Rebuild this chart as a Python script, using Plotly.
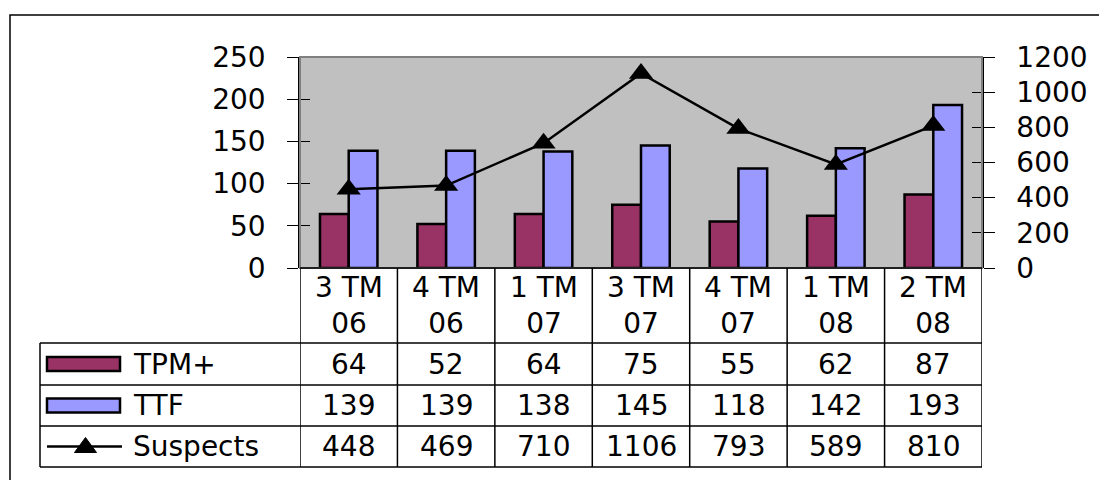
import plotly.graph_objects as go

W, H = 1107, 480
PAGE_OFFSET = 8  # the page body margin shifts the figure by 8px

categories = ["3 TM<br>06", "4 TM<br>06", "1 TM<br>07", "3 TM<br>07",
              "4 TM<br>07", "1 TM<br>08", "2 TM<br>08"]
tpm = [64, 52, 64, 75, 55, 62, 87]
ttf = [139, 139, 138, 145, 118, 142, 193]
suspects = [448, 469, 710, 1106, 793, 589, 810]
series_names = ["TPM+", "TTF", "Suspects"]

maroon = "#993366"
lilac = "#9999FF"
FONT = "DejaVu Sans"
FS = 28


def px(x):
    return (x - PAGE_OFFSET) / W


def py(y):
    return 1 - (y - PAGE_OFFSET) / H


# plot area / table geometry in pixels
left, right, top, bottom = 300, 982, 57, 268
rows = [268, 343, 385, 426, 467]
legend_left = 40

idx = list(range(len(categories)))

fig = go.Figure()
fig.add_trace(go.Bar(x=idx, y=tpm, name=series_names[0], marker_color=maroon,
                     marker_line=dict(color="black", width=2.5)))
fig.add_trace(go.Bar(x=idx, y=ttf, name=series_names[1], marker_color=lilac,
                     marker_line=dict(color="black", width=2.5)))
fig.add_trace(go.Scatter(x=idx, y=suspects, name=series_names[2], yaxis="y2",
                         mode="lines+markers",
                         line=dict(color="black", width=2.5),
                         marker=dict(symbol="triangle-up", size=21, color="black")))
# empty traces so the inner-tick overlay axes get drawn
fig.add_trace(go.Scatter(x=[], y=[], yaxis="y3", showlegend=False))
fig.add_trace(go.Scatter(x=[], y=[], yaxis="y4", showlegend=False))

xdom = [px(left), px(right)]
ydom = [py(bottom), py(top)]
tickfont = dict(family=FONT, size=FS, color="black")

fig.update_layout(
    width=W, height=H,
    autosize=False,
    margin=dict(l=0, r=0, t=0, b=0, pad=0, autoexpand=False),
    paper_bgcolor="white",
    plot_bgcolor="#C0C0C0",
    showlegend=False,
    barmode="group",
    bargap=0.41,
    bargroupgap=0,
    font=dict(family=FONT, size=FS, color="black"),
    xaxis=dict(domain=xdom, range=[-0.5, 6.5], showticklabels=False,
               showgrid=False, zeroline=False, showline=False, ticks="",
               automargin=False),
    yaxis=dict(domain=ydom, range=[0, 250], dtick=50, showgrid=False,
               zeroline=False, showline=True, linecolor="black", linewidth=1.5,
               ticks="outside", ticklen=11, tickcolor="black",
               ticklabelstandoff=16, tickfont=tickfont, automargin=False),
    yaxis2=dict(domain=ydom, range=[0, 1200], dtick=200, overlaying="y",
                side="right", anchor="x", showgrid=False, zeroline=False,
                showline=True, linecolor="black", linewidth=1.5,
                ticks="outside", ticklen=11, tickcolor="black",
                ticklabelstandoff=16, tickfont=tickfont, automargin=False),
    yaxis3=dict(domain=ydom, range=[0, 250], dtick=50, overlaying="y",
                side="left", anchor="x", showgrid=False, zeroline=False,
                showticklabels=False, ticks="inside", ticklen=10,
                tickcolor="black", automargin=False),
    yaxis4=dict(domain=ydom, range=[0, 1200], dtick=200, overlaying="y",
                side="right", anchor="x", showgrid=False, zeroline=False,
                showticklabels=False, ticks="inside", ticklen=10,
                tickcolor="black", automargin=False),
)

shapes = []
# outer chart border (runs off the right and bottom edges)
shapes.append(dict(type="rect", xref="paper", yref="paper",
                   x0=px(10), x1=px(1130), y0=py(510), y1=py(15),
                   line=dict(color="black", width=1.5), layer="below"))
# plot area border
shapes.append(dict(type="rect", xref="paper", yref="paper",
                   x0=px(left), x1=px(right), y0=py(bottom), y1=py(top),
                   line=dict(color="#808080", width=2)))

# data table grid
for r in rows:
    x0 = px(left) if r == rows[0] else px(legend_left)
    shapes.append(dict(type="line", xref="paper", yref="paper",
                       x0=x0, x1=px(right), y0=py(r), y1=py(r),
                       line=dict(color="black", width=1.5)))
for i in range(len(categories) + 1):
    shapes.append(dict(type="line", xref="x", yref="paper",
                       x0=i - 0.5, x1=i - 0.5, y0=py(rows[0]), y1=py(rows[-1]),
                       line=dict(color="black", width=1.5)))
shapes.append(dict(type="line", xref="paper", yref="paper",
                   x0=px(legend_left), x1=px(legend_left),
                   y0=py(rows[1]), y1=py(rows[-1]),
                   line=dict(color="black", width=1.5)))

# legend keys inside the table
key_x0, key_x1 = 47, 120
for k, color in enumerate([maroon, lilac]):
    cy = (rows[k + 1] + rows[k + 2]) / 2
    shapes.append(dict(type="rect", xref="paper", yref="paper",
                       x0=px(key_x0), x1=px(key_x1), y0=py(cy + 7), y1=py(cy - 7),
                       fillcolor=color, line=dict(color="black", width=2.5)))
cy = (rows[3] + rows[4]) / 2
shapes.append(dict(type="line", xref="paper", yref="paper",
                   x0=px(key_x0), x1=px(key_x1 + 2), y0=py(cy), y1=py(cy),
                   line=dict(color="black", width=2.5)))
tx = (key_x0 + key_x1) / 2 + 2
shapes.append(dict(type="path", xref="paper", yref="paper",
                   path="M {} {} L {} {} L {} {} Z".format(
                       px(tx - 11), py(cy + 6), px(tx + 11), py(cy + 6),
                       px(tx), py(cy - 9)),
                   fillcolor="black", line=dict(color="black", width=1)))

annotations = []
for k, name in enumerate(series_names):
    cy = (rows[k + 1] + rows[k + 2]) / 2
    annotations.append(dict(xref="paper", yref="paper", x=px(131), y=py(cy),
                            text=name, showarrow=False, xanchor="left",
                            yanchor="middle", font=dict(size=FS)))
for i, cat in enumerate(categories):
    annotations.append(dict(xref="x", yref="paper", x=i,
                            y=py((rows[0] + rows[1]) / 2),
                            text=cat, showarrow=False, xanchor="center",
                            yanchor="middle", font=dict(size=FS)))
    for k, vals in enumerate([tpm, ttf, suspects]):
        cy = (rows[k + 1] + rows[k + 2]) / 2
        annotations.append(dict(xref="x", yref="paper", x=i, y=py(cy),
                                text=str(vals[i]), showarrow=False,
                                xanchor="center", yanchor="middle",
                                font=dict(size=FS)))

fig.update_layout(shapes=shapes, annotations=annotations)

fig.write_html("out.html")
